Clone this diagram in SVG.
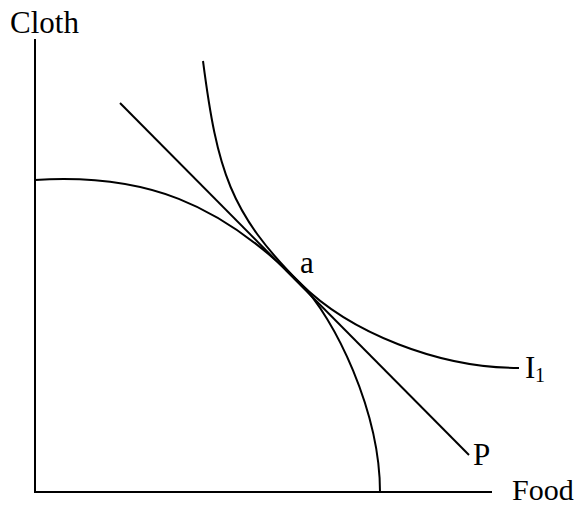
<svg xmlns="http://www.w3.org/2000/svg" width="580" height="507" viewBox="0 0 580 507">
<style>
.ln{fill:none;stroke:#000;stroke-width:2}
.t{font-family:"Liberation Serif","Times New Roman",serif;font-size:31px;fill:#000}
.s{font-family:"Liberation Serif","Times New Roman",serif;font-size:20px;fill:#000}
</style>
<rect width="580" height="507" fill="#fff"/>
<g id="axes">
<path class="ln" d="M35,39 V492 H492"/>
<text class="t" x="10" y="33">Cloth</text>
<text class="t" x="512" y="500" style="font-size:30px">Food</text>
</g>
<g id="connectors">
<path id="ppf" class="ln" d="M35,180 C145,173 220,203 300,283 C335,318 380,412 380,492"/>
<path id="i1" class="ln" d="M203,61 C217.3,171 230,213 300,283 C350,333 439,368 519,368"/>
<path id="p" class="ln" d="M120,103 L469,455"/>
</g>
<g id="label-a"><text class="t" x="300" y="273">a</text></g>
<g id="label-i1"><text class="t" x="525" y="378">I</text><text class="s" x="535" y="382">1</text></g>
<g id="label-p"><text class="t" x="473" y="465">P</text></g>
</svg>
